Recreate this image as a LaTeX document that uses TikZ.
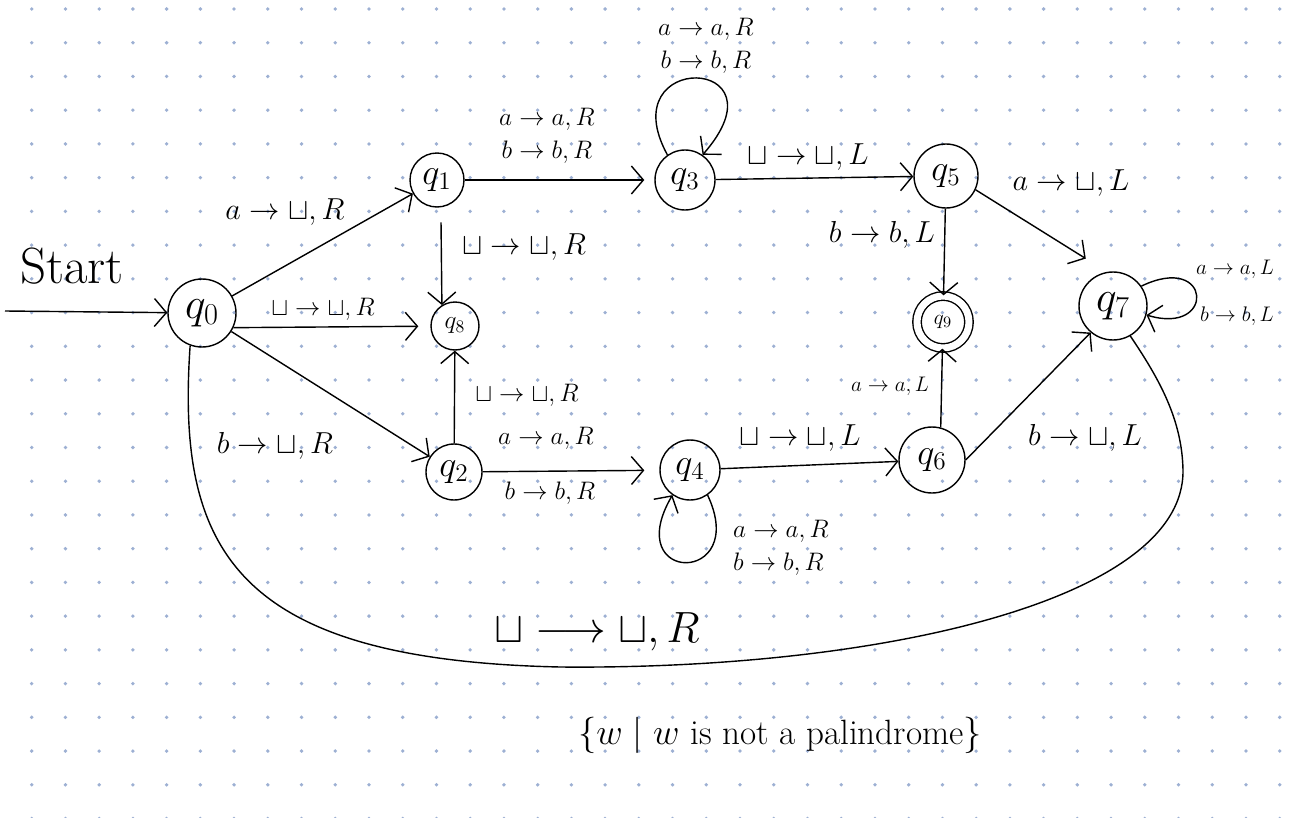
\documentclass[tikz,border=0pt]{standalone}
\usetikzlibrary{arrows.meta}
\definecolor{dotgray}{HTML}{9DB0D3}
\tikzset{
  state/.style={circle, draw, line width=0.8pt, inner sep=0pt, font=\fontsize{20}{22}\selectfont},
  bigstate/.style={state, font=\fontsize{24}{26}\selectfont},
  trans/.style={font=\fontsize{15}{19}\selectfont},
  widetrans/.style={font=\fontsize{17}{20}\selectfont},
  smalltrans/.style={font=\fontsize{12}{14}\selectfont},
  >={Straight Barb[length=2.4mm,width=5.6mm]},
}
\begin{document}
\begin{tikzpicture}[x=0.02cm,y=-0.02cm,line width=0.8pt]
\useasboundingbox (0,0) rectangle (1303,818);
% dotted paper
\foreach \i in {0,...,37}
  \foreach \j in {0,...,24}
    \fill[dotgray] (31.7+33.73*\i,9+33.73*\j) circle (0.038cm);

% states
\node[bigstate, minimum size=1.36cm] (q0) at (202,313) {$q_0$};
\node[state, minimum size=1.08cm] (q1) at (437,180) {$q_1$};
\node[state, minimum size=0.96cm, font=\fontsize{14}{16}\selectfont] (q8) at (455,326) {$q_8$};
\node[state, minimum size=1.12cm] (q2) at (454,472) {$q_2$};
\node[state, minimum size=1.2cm] (q3) at (685,180) {$q_3$};
\node[state, minimum size=1.2cm] (q4) at (690,470) {$q_4$};
\node[state, minimum size=1.28cm] (q5) at (946,176) {$q_5$};
\node[state, minimum size=1.04cm, double, double distance=0.14cm, font=\fontsize{13}{15}\selectfont] (q9) at (943,322) {$q_9$};
\node[state, minimum size=1.32cm] (q6) at (932,460) {$q_6$};
\node[bigstate, minimum size=1.36cm] (q7) at (1113,306) {$q_7$};

% start
\coordinate (start) at (5,311);
\node[font=\fontsize{29}{31}\selectfont] (startlbl) at (72,266) {Start};
\draw[->] (start) -- (q0);

% transitions
\draw[->] (q0) -- (q1);
\draw[->, shorten >=0.24cm] (q0.-25) -- (q8);
\draw[->] (q0) -- (q2);
\draw[->, shorten <=0.3cm] (q1.-82) -- (q8.122);
\draw[->] (q2) -- (q8);
\draw[->, shorten >=0.2cm] (q1) -- (q3);
\draw[->] (q3.125) .. controls (610,50) and (790,55) .. (q3.55);
\draw[->] (q3) -- (q5);
\draw[->] (q5) -- (q9);
\draw[->, shorten >=0.5cm] (q5.-25) -- (q7.100);
\draw[->] (q7.35) .. controls (1212,252) and (1216,336) .. (q7.-15);
\draw[->, shorten >=0.3cm] (q2) -- (q4);
\draw[->] (q4.-55) .. controls (750,585) and (620,585) .. (q4.-125);
\draw[->] (q4) -- (q6);
\draw[->] (q6.75) -- (q9);
\draw[->] (q6.east) -- (q7.-130);
\draw (q0.250) .. controls (176,550) and (235,660) .. (560,667)
  .. controls (880,670) and (1185,600) .. (1183,470)
  .. controls (1182,420) and (1160,380) .. (q7.-60);

% labels
\node[widetrans] (l01) at (285,212) {$a\to\sqcup,R$};
\node[widetrans] (l18) at (524,247) {$\sqcup\to\sqcup,R$};
\node[trans] (l08) at (323,309) {$\sqcup\to\sqcup,R$};
\node[widetrans] (l02) at (275,446) {$b\to\sqcup,R$};
\node[trans] (l28) at (527,395) {$\sqcup\to\sqcup,R$};
\node[trans, align=center] (l13) at (547,136) {$a\to a,R$\\$b\to b,R$};
\node[trans, align=center] (l33) at (706,46) {$a\to a,R$\\$b\to b,R$};
\node[widetrans] (l35) at (808,157) {$\sqcup\to\sqcup,L$};
\node[widetrans] (l57) at (1071,183) {$a\to\sqcup,L$};
\node[widetrans] (l59) at (882,235) {$b\to b,L$};
\node[smalltrans] (l77a) at (1235,269) {$a\to a,L$};
\node[smalltrans] (l77b) at (1237,316) {$b\to b,L$};
\node[trans] (l24a) at (546,438) {$a\to a,R$};
\node[trans] (l24b) at (550,493) {$b\to b,R$};
\node[trans, align=left] (l44) at (781,548) {$a\to a,R$\\$b\to b,R$};
\node[widetrans] (l46) at (800,438) {$\sqcup\to\sqcup,L$};
\node[smalltrans] (l69) at (890,386) {$a\to a,L$};
\node[widetrans] (l67) at (1085,438) {$b\to\sqcup,L$};
\node[font=\fontsize{28}{30}\selectfont] (l70) at (597,632) {$\sqcup\longrightarrow\sqcup,R$};
\node[font=\fontsize{20}{22}\selectfont] (lang) at (780,735) {$\{w\mid w$ is not a palindrome$\}$};
\end{tikzpicture}
\end{document}
